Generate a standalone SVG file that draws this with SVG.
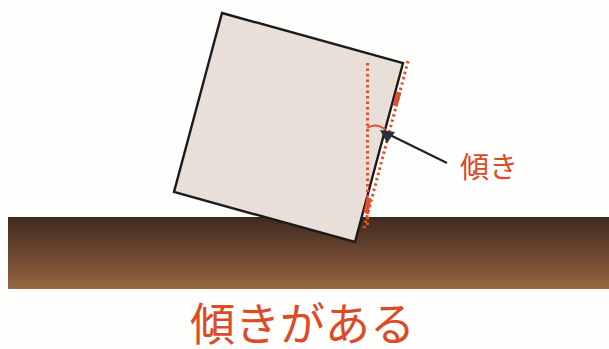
<svg xmlns="http://www.w3.org/2000/svg" width="609" height="349" viewBox="0 0 609 349">
<style>
.r{fill:none;stroke:#e0502f}
.d{stroke-width:3;stroke-dasharray:2.500 3}
.t{fill:#dc4a26;font-family:"Noto Sans CJK JP","Liberation Sans",sans-serif}
</style>
<defs><linearGradient id="g" x1="0" y1="0" x2="0" y2="1"><stop offset="0" stop-color="#3f2a20"/><stop offset="0.5" stop-color="#6c4630"/><stop offset="1" stop-color="#97673f"/></linearGradient></defs>
<rect width="609" height="349" fill="#fefefc"/>
<g id="ground"><rect x="8" y="217" width="601" height="72" fill="url(#g)"/></g>
<g id="block"><polygon points="222,13 403,63 355,242 174,192" fill="#e8e0d8" stroke="#1c1a1a" stroke-width="2.400" stroke-linejoin="miter"/></g>
<g id="connectors">
<line class="r d" x1="367.500" y1="63" x2="367.500" y2="228"/>
<line class="r d" x1="408" y1="61" x2="364" y2="228"/>
<line class="r" stroke-width="5" x1="399" y1="92" x2="395" y2="106"/>
<line class="r" stroke-width="5" x1="369" y1="198" x2="366" y2="213"/>
<path class="r" stroke-width="2" d="M367 128Q376 122 386 130"/>
<line x1="447" y1="163" x2="388" y2="134" stroke="#222" stroke-width="2.200"/>
<polygon points="380,130 395,132 387,143" fill="#2c2f33"/>
</g>
<g id="labels">
<text class="t" x="460" y="178" font-size="29">傾き</text>
<text class="t" x="190" y="341" font-size="45">傾きがある</text>
</g>
</svg>
